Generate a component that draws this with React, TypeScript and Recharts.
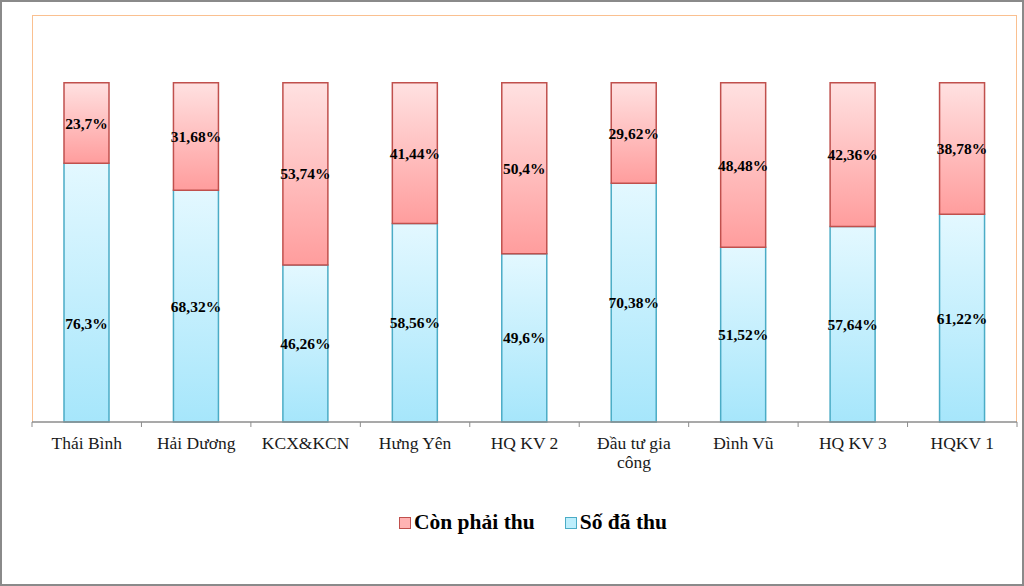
import React from 'react';
import { BarChart, Bar, XAxis, YAxis, LabelList } from 'recharts';

const categories = [
  'Thái Bình',
  'Hải Dương',
  'KCX&KCN',
  'Hưng Yên',
  'HQ KV 2',
  'Đầu tư gia công',
  'Đình Vũ',
  'HQ KV 3',
  'HQKV 1',
];
const collected = [76.3, 68.32, 46.26, 58.56, 49.6, 70.38, 51.52, 57.64, 61.22];
const remaining = [23.7, 31.68, 53.74, 41.44, 50.4, 29.62, 48.48, 42.36, 38.78];

const data = categories.map((name, i) => ({
  name,
  collected: collected[i],
  remaining: remaining[i],
}));

const W = 1024;
const H = 586;
const PLOT_LEFT = 32;
const PLOT_RIGHT = 1017;
const PLOT_TOP = 15;
const AXIS_Y = 422;
const BAND = (PLOT_RIGHT - PLOT_LEFT) / categories.length;
const SERIF = '"Liberation Serif", "Times New Roman", serif';

const fmt = (v: any) => String(v).replace('.', ',') + '%';

const wrap = (s: string, max = 12) => {
  const words = s.split(' ');
  const lines: string[] = [];
  let cur = '';
  words.forEach((w) => {
    const next = cur ? cur + ' ' + w : w;
    if (next.length > max && cur) {
      lines.push(cur);
      cur = w;
    } else cur = next;
  });
  if (cur) lines.push(cur);
  return lines;
};

const Tick = (props: any) => {
  const { x, y, payload, index } = props;
  const lines = wrap(payload.value);
  return (
    <g>
      <line x1={x - BAND / 2} x2={x - BAND / 2} y1={y} y2={y + 5} stroke="#8c8c8c" />
      {index === categories.length - 1 && (
        <line x1={x + BAND / 2} x2={x + BAND / 2} y1={y} y2={y + 5} stroke="#8c8c8c" />
      )}
      <text x={x} y={y + 27} textAnchor="middle" fontFamily={SERIF} fontSize={17.5} fill="#1a1a1a">
        {lines.map((l, i) => (
          <tspan key={i} x={x} dy={i === 0 ? 0 : 19}>
            {l}
          </tspan>
        ))}
      </text>
    </g>
  );
};

const makeLabel = (shiftFirst: boolean) => (props: any) => {
  const { x, y, width, height, value, index } = props;
  const dy = shiftFirst && index === 0 ? 31 : 0;
  return (
    <text
      x={x + width / 2}
      y={y + height / 2 + dy}
      textAnchor="middle"
      dominantBaseline="central"
      fontFamily={SERIF}
      fontWeight="bold"
      fontSize={15.5}
      fill="#000"
    >
      {fmt(value)}
    </text>
  );
};

const LegendItem = ({ label, stroke, fill }: { label: string; stroke: string; fill: string }) => (
  <span style={{ display: 'inline-flex', alignItems: 'center', margin: '0 15px' }}>
    <span
      style={{
        display: 'inline-block',
        width: 10,
        height: 10,
        border: `1.5px solid ${stroke}`,
        background: fill,
        marginRight: 3,
      }}
    />
    <span style={{ fontFamily: SERIF, fontWeight: 'bold', fontSize: 21.5, color: '#000' }}>{label}</span>
  </span>
);

export default function App() {
  return (
    <div
      style={{
        position: 'absolute',
        left: 0,
        top: 0,
        width: W,
        height: H,
        boxSizing: 'border-box',
        border: '2px solid #8a8a8a',
        background: '#fff',
      }}
    >
      <div
        style={{
          position: 'absolute',
          left: PLOT_LEFT - 2,
          top: PLOT_TOP - 2,
          width: PLOT_RIGHT - PLOT_LEFT,
          height: AXIS_Y - PLOT_TOP,
          boxSizing: 'border-box',
          borderTop: '1.5px solid #fac090',
          borderLeft: '1.5px solid #fac090',
          borderRight: '1.5px solid #fac090',
        }}
      />
      <div style={{ position: 'absolute', left: -2, top: -2 }}>
        <BarChart
          width={W}
          height={H}
          data={data}
          margin={{ top: PLOT_TOP, left: PLOT_LEFT, right: W - PLOT_RIGHT, bottom: H - AXIS_Y - 40 }}
          barSize={45}
        >
          <defs>
            <linearGradient id="gRed" x1="0" y1="0" x2="0" y2="1">
              <stop offset="0%" stopColor="#ffe1e1" />
              <stop offset="100%" stopColor="#ff9d9d" />
            </linearGradient>
            <linearGradient id="gBlue" x1="0" y1="0" x2="0" y2="1">
              <stop offset="0%" stopColor="#e3f8ff" />
              <stop offset="100%" stopColor="#a6e6fb" />
            </linearGradient>
          </defs>
          <YAxis hide domain={[0, 120]} />
          <XAxis
            dataKey="name"
            height={40}
            interval={0}
            tickSize={0}
            tickMargin={0}
            axisLine={{ stroke: '#8c8c8c', strokeWidth: 1.5 }}
            tick={<Tick />}
          />
          <Bar dataKey="collected" stackId="a" fill="url(#gBlue)" stroke="#4bacc6" strokeWidth={1.5} isAnimationActive={false}>
            <LabelList dataKey="collected" content={makeLabel(true)} />
          </Bar>
          <Bar dataKey="remaining" stackId="a" fill="url(#gRed)" stroke="#c0504d" strokeWidth={1.5} isAnimationActive={false}>
            <LabelList dataKey="remaining" content={makeLabel(false)} />
          </Bar>
        </BarChart>
      </div>
      <div
        style={{
          position: 'absolute',
          left: 19,
          top: 508,
          width: W,
          display: 'flex',
          justifyContent: 'center',
        }}
      >
        <LegendItem label="Còn phải thu" stroke="#c0504d" fill="#ffb3b3" />
        <LegendItem label="Số đã thu" stroke="#4bacc6" fill="#bdeefc" />
      </div>
    </div>
  );
}
